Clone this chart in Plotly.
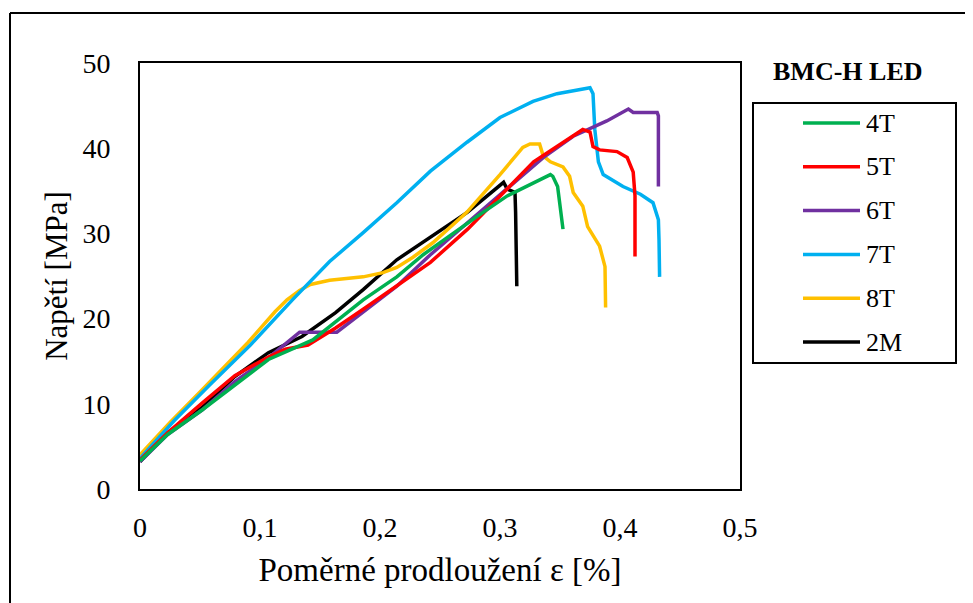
import plotly.graph_objects as go

# strain [%] vs stress [MPa]
x_4T = [0, 0.023, 0.052, 0.079, 0.107, 0.144, 0.158, 0.186, 0.214, 0.236, 0.281, 0.306, 0.342, 0.344, 0.348, 0.35, 0.3525]
y_4T = [3.3, 6.4, 9.3, 12.2, 15.2, 17.5, 19.1, 22.2, 24.9, 27.5, 32.0, 34.4, 36.9, 36.7, 35.5, 33.2, 30.5]

x_5T = [0, 0.023, 0.052, 0.079, 0.107, 0.121, 0.14, 0.152, 0.163, 0.186, 0.214, 0.242, 0.273, 0.328, 0.369, 0.375,
        0.3775, 0.383, 0.3975, 0.406, 0.411, 0.4125, 0.4125]
y_5T = [3.4, 6.6, 10.1, 13.3, 15.5, 16.4, 16.9, 17.9, 18.9, 21.1, 23.8, 26.6, 30.5, 38.4, 42.2, 41.9,
        40.2, 39.8, 39.6, 38.9, 37.2, 34.4, 27.3]

x_6T = [0, 0.023, 0.052, 0.079, 0.107, 0.125, 0.133, 0.164, 0.186, 0.214, 0.242, 0.273, 0.336, 0.361, 0.389, 0.407,
        0.411, 0.431, 0.432, 0.432]
y_6T = [3.2, 6.4, 9.3, 12.6, 15.4, 17.5, 18.4, 18.4, 20.8, 23.8, 27.5, 31.3, 38.9, 41.4, 43.2, 44.6,
        44.2, 44.2, 43.8, 35.5]

x_7T = [0, 0.029, 0.058, 0.092, 0.127, 0.158, 0.186, 0.214, 0.242, 0.2725, 0.3, 0.3275, 0.3475, 0.361, 0.375, 0.3775,
        0.379, 0.382, 0.386, 0.4025, 0.417, 0.4275, 0.432, 0.4325, 0.433]
y_7T = [3.6, 8.1, 12.2, 16.9, 22.2, 26.7, 30.1, 33.6, 37.3, 40.7, 43.6, 45.5, 46.4, 46.7, 47.1, 46.4,
        42.2, 38.4, 36.9, 35.5, 34.6, 33.6, 31.6, 29.3, 24.9]

x_8T = [0, 0.025, 0.05, 0.075, 0.09, 0.1025, 0.1125, 0.1225, 0.133, 0.142, 0.158, 0.186, 0.2025, 0.214, 0.2275, 0.244,
        0.2725, 0.3, 0.319, 0.325, 0.333, 0.336, 0.342, 0.3525, 0.358, 0.361, 0.369, 0.373, 0.383, 0.3875, 0.388]
y_8T = [4.0, 7.8, 11.4, 15.0, 17.2, 19.2, 20.8, 22.2, 23.3, 24.0, 24.5, 24.9, 25.4, 26.0, 27.2, 28.9,
        32.5, 36.9, 40.1, 40.5, 40.5, 39.1, 38.4, 37.8, 36.7, 34.8, 33.2, 30.8, 28.5, 26.1, 21.3]

x_2M = [0, 0.023, 0.052, 0.079, 0.107, 0.135, 0.163, 0.186, 0.214, 0.242, 0.273, 0.303, 0.306, 0.3125, 0.313, 0.314]
y_2M = [3.2, 6.6, 9.6, 13.2, 16.0, 17.9, 20.7, 23.4, 26.9, 29.5, 32.5, 36.0, 35.2, 34.8, 32.5, 23.8]

names = ["4T", "5T", "6T", "7T", "8T", "2M"]
colors = ["#00B050", "#FF0000", "#7030A0", "#00B0F0", "#FFC000", "#000000"]
xs = [x_4T, x_5T, x_6T, x_7T, x_8T, x_2M]
ys = [y_4T, y_5T, y_6T, y_7T, y_8T, y_2M]

x_ticks = [0, 0.1, 0.2, 0.3, 0.4, 0.5]
x_ticktext = ["0", "0,1", "0,2", "0,3", "0,4", "0,5"]
y_ticks = [0, 10, 20, 30, 40, 50]

OFF = 8  # page body margin
W, H = 973 - OFF, 603 - OFF
L, R, T, B = 140, 740, 63, 489  # plot box in screen px
FONT = "Liberation Serif"


def px(x):
    return (x - L) / (R - L)


def py(y):
    return (B - y) / (B - T)


fig = go.Figure()
# draw in reverse so 4T ends on top like the reference
for n, c, x, y in reversed(list(zip(names, colors, xs, ys))):
    fig.add_trace(go.Scatter(x=x, y=y, mode="lines", name=n, line=dict(color=c, width=3.5), showlegend=False))

shapes = []
annos = []
# outer frame (only left/top visible)
shapes.append(dict(type="line", xref="paper", yref="paper", x0=px(10), y0=py(13), x1=px(980), y1=py(13),
                   line=dict(color="black", width=2)))
shapes.append(dict(type="line", xref="paper", yref="paper", x0=px(10), y0=py(13), x1=px(10), y1=py(610),
                   line=dict(color="black", width=2)))
# legend box
shapes.append(dict(type="rect", xref="paper", yref="paper", x0=px(753), y0=py(103), x1=px(956), y1=py(363),
                   line=dict(color="black", width=2)))
for i, (n, c) in enumerate(zip(names, colors)):
    yy = 123 + i * 43.8
    shapes.append(dict(type="line", xref="paper", yref="paper", x0=px(803), x1=px(860), y0=py(yy), y1=py(yy),
                       line=dict(color=c, width=3.5)))
    annos.append(dict(text=n, xref="paper", yref="paper", x=px(864), y=py(yy), xanchor="left", yanchor="middle",
                      showarrow=False, font=dict(family=FONT, size=26, color="black")))
annos.append(dict(text="<b>BMC-H LED</b>", xref="paper", yref="paper", x=px(848), y=py(72), xanchor="center",
                  yanchor="middle", showarrow=False, font=dict(family=FONT, size=26, color="black")))

fig.update_layout(
    width=W, height=H, margin=dict(l=L - OFF, r=973 - R, t=T - OFF, b=603 - B),
    plot_bgcolor="white", paper_bgcolor="white",
    font=dict(family=FONT, size=28, color="black"),
    shapes=shapes, annotations=annos, showlegend=False,
)
fig.update_xaxes(range=[0, 0.5], tickvals=x_ticks, ticktext=x_ticktext, showgrid=False, zeroline=False,
                 showline=True, linecolor="black", linewidth=2, mirror=True, ticks="", ticklabelstandoff=12,
                 tickfont=dict(family=FONT, size=28, color="black"),
                 title=dict(text="Poměrné prodloužení ε [%]", standoff=16,
                            font=dict(family=FONT, size=33, color="black")))
fig.update_yaxes(range=[0, 50], tickvals=y_ticks, showgrid=False, zeroline=False,
                 showline=True, linecolor="black", linewidth=2, mirror=True, ticks="", ticklabelstandoff=22,
                 tickfont=dict(family=FONT, size=28, color="black"),
                 title=dict(text="Napětí [MPa]", standoff=6, font=dict(family=FONT, size=31, color="black")))

fig.write_html("out.html")
